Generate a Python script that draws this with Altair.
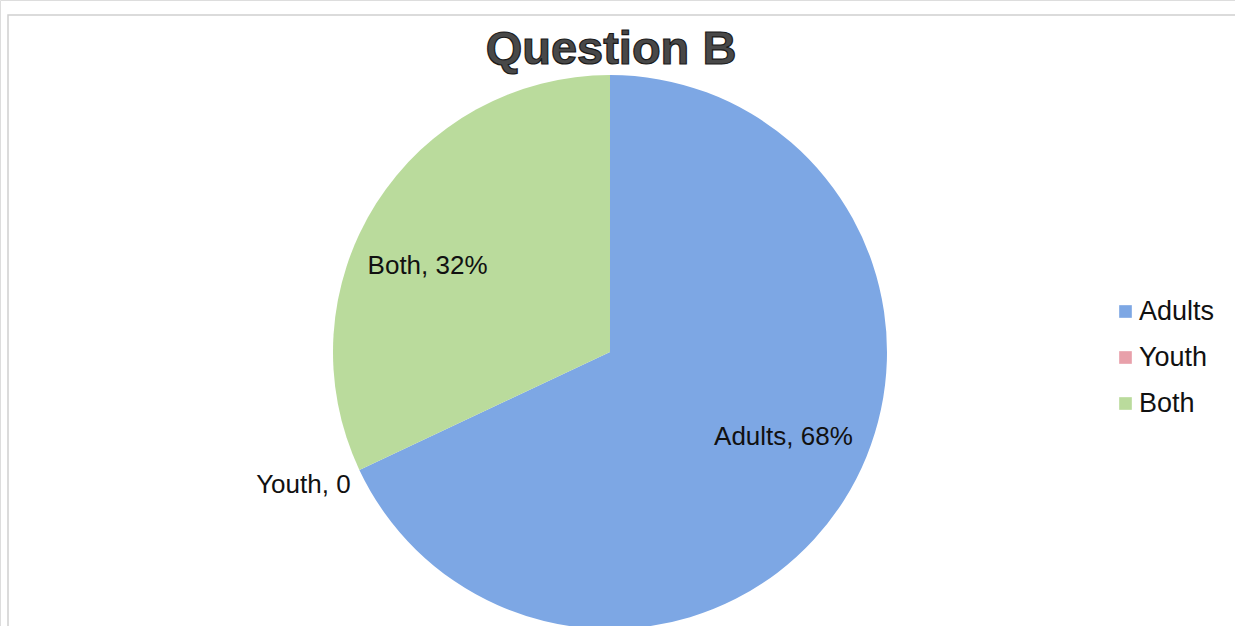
import altair as alt
import pandas as pd

categories = ["Adults", "Youth", "Both"]
values = [68, 0, 32]
label_texts = ["Adults, 68%", "Youth, 0", "Both, 32%"]
colors = ["#7DA7E4", "#E8A0AA", "#BADB9C"]

df = pd.DataFrame({
    "cat": categories,
    "val": values,
    "lab": label_texts,
    "idx": list(range(len(categories))),
})

W, H = 1235, 626
CX, CY, R = 610, 352, 277
FONT = "Liberation Sans"
LFS = 26

base = alt.Chart(df)

pie = base.mark_arc(outerRadius=R, stroke=None).encode(
    theta=alt.Theta("val:Q", stack=True),
    color=alt.Color(
        "cat:N",
        scale=alt.Scale(domain=categories, range=colors),
        sort=categories,
        legend=alt.Legend(
            title=None, orient="none", legendX=1112, legendY=298,
            symbolType="square", symbolSize=160, symbolStrokeWidth=0,
            labelFontSize=27, labelFont=FONT, labelColor="#111",
            rowPadding=18, labelOffset=0, padding=0,
        ),
    ),
    order=alt.Order("idx:Q"),
    x=alt.value(CX), y=alt.value(CY),
)

lab_base = base.transform_window(
    cum="sum(val)", sort=[alt.SortField("idx")], frame=[None, 0]
).transform_calculate(mid="datum.cum - datum.val / 2")


def label(cat, radius, dx, dy, align):
    return lab_base.transform_filter(alt.datum.cat == cat).mark_text(
        radius=radius, dx=dx, dy=dy, align=align, baseline="middle",
        fontSize=LFS, font=FONT, color="#111",
    ).encode(
        theta=alt.Theta("mid:Q", stack=False, scale=alt.Scale(domain=[0, 100], range=[0, 6.283185307])),
        text="lab:N",
        x=alt.value(CX), y=alt.value(CY),
    )


lab_adults = label("Adults", 190, 13, -17, "center")
lab_both = label("Both", 190, -22, 16, "center")
lab_youth = label("Youth", 290, 3, 10, "right")

title = alt.Chart(pd.DataFrame({"t": ["Question B"]})).mark_text(
    fontSize=47, fontWeight="bold", font=FONT, fill="#484848",
    stroke="#1a1a1a", strokeWidth=1.2, align="center", baseline="middle",
).encode(text="t:N", x=alt.value(CX + 1), y=alt.value(50))

frame = alt.Chart(pd.DataFrame({"a": [0]})).mark_rect(
    fill=None, stroke="#d0d0d0", strokeWidth=1.5
).encode(x=alt.value(8), x2=alt.value(1300), y=alt.value(15), y2=alt.value(700))

chart = alt.layer(frame, pie, lab_adults, lab_both, lab_youth, title).properties(
    width=W, height=H, padding=0, autosize=alt.AutoSizeParams(type="none"),
).configure_view(stroke=None).configure(background="white")

chart.save("out.html", embed_options={"renderer": "svg", "actions": False})
